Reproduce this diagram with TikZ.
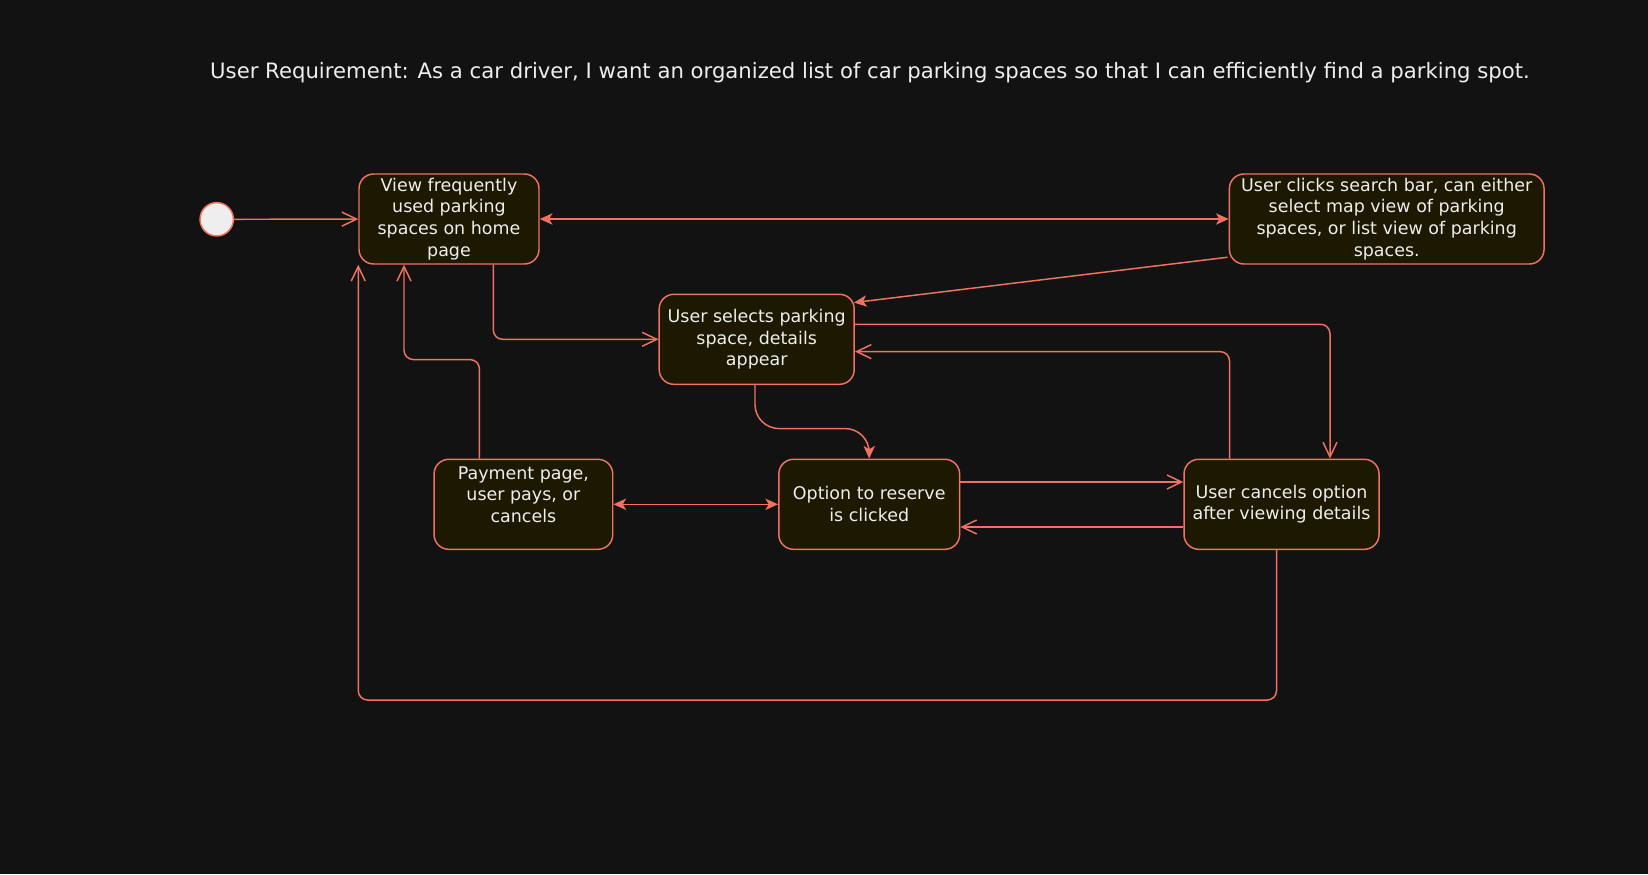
\documentclass[tikz,border=0pt]{standalone}
\usepackage{fontspec}
\setmainfont{DejaVu Sans}
\usetikzlibrary{arrows.meta,calc}
\definecolor{bg}{HTML}{121212}
\definecolor{ln}{HTML}{F2725F}
\definecolor{nf}{HTML}{1C1900}
\definecolor{tx}{HTML}{EEEEEE}
\begin{document}
\begin{tikzpicture}[x=0.75pt,y=-0.75pt,
  state/.style={draw=ln, line width=1.1pt, fill=nf, rounded corners=11pt, align=center, text=tx,
    font=\fontsize{13.1}{16.3}\selectfont, inner sep=0pt, minimum height=67.5pt},
  conn/.style={draw=ln, line width=1.1pt, rounded corners=7pt},
  openarr/.style={-{Straight Barb[length=11pt,width=10.5pt]}},
  fillarr/.style={-{Stealth[length=9.5pt,width=8.5pt,inset=2.5pt]}},
  bothfill/.style={{Stealth[length=9.5pt,width=8.5pt,inset=2.5pt]}-{Stealth[length=9.5pt,width=8.5pt,inset=2.5pt]}}
]
\fill[bg] (0,0) rectangle (1648,874);
\useasboundingbox (0,0) rectangle (1648,874);

\node[text=tx, font=\fontsize{15.9}{18}\selectfont] (T) at (870,72.5)
  {User Requirement: As a car driver, I want an organized list of car parking spaces so that I can efficiently find a parking spot.};

\node[circle, draw=ln, line width=1.1pt, fill=tx, minimum size=25pt, inner sep=0pt] (S) at (216.7,219.3) {};

\node[state, minimum width=135pt] (A) at (449,219) {View frequently\\used parking\\spaces on home\\page};
\node[state, minimum width=146.25pt] (B) at (756.7,339.3) {User selects parking\\space, details\\appear};
\node[state, minimum width=236pt] (C) at (1386.7,219) {User clicks search bar, can either\\select map view of parking\\spaces, or list view of parking\\spaces.};
\node[state, minimum width=146.25pt] (D) at (1281.5,504.3) {User cancels option\\after viewing details};
\node[state, minimum width=135.6pt] (E) at (869.2,504.3) {Option to reserve\\is clicked};
\node[state, minimum width=134pt] (F) at (523.4,504.3) {Payment page,\\user pays, or\\cancels\\[-6.3pt]\strut};

% connectors
\draw[conn, openarr] (S) -- (A);
\draw[conn, bothfill] (A) -- (C);
\draw[conn, openarr] ($(A.south)+(44.3,0)$) |- (B.west);
\draw[conn, fillarr] ($(C.south west)+(-1,-7.5)$) -- ($(B.north east)+(-1,9)$);
\draw[conn, openarr] ($(B.east)+(0,-15)$) -| ($(D.north)+(48.5,0)$);
\draw[conn, openarr] ($(D.north)+(-52,0)$) |- ($(B.east)+(0,12.3)$);
\draw[conn, fillarr, rounded corners=18pt] ($(B.south)+(-1.7,0)$) |- ($(E.north)+(0,-30)$) -- (E.north);
\draw[conn, bothfill] (F) -- (E);
\draw[conn, openarr] ($(E.east)+(0,-22.3)$) -- ($(D.west)+(0,-22.3)$);
\draw[conn, openarr] ($(D.west)+(0,22.7)$) -- ($(E.east)+(0,22.7)$);
\draw[conn, openarr] ($(F.north)+(-44,0)$) -- ++(0,-99) -| ($(A.south)+(-45,0)$);
\draw[conn, openarr] ($(D.south)+(-5,0)$) -- ++(0,150) -| (A.south west);
\end{tikzpicture}
\end{document}
